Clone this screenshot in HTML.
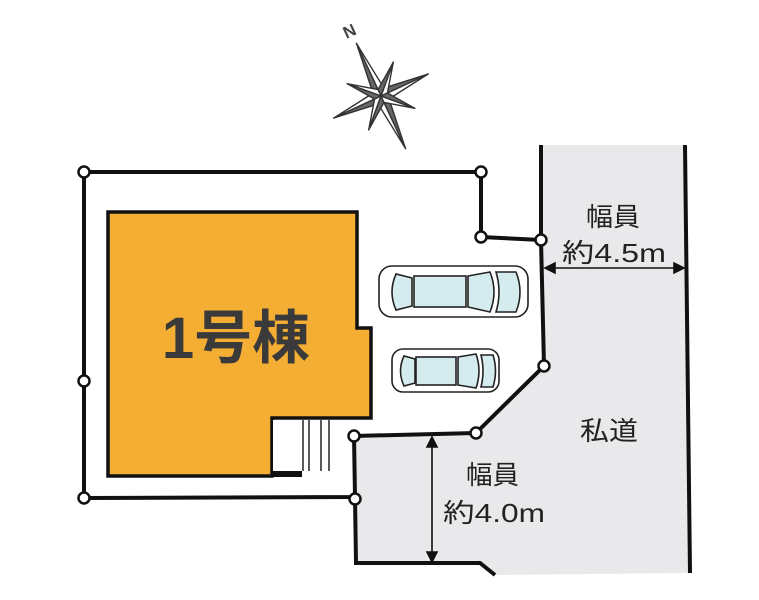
<!DOCTYPE html>
<html><head><meta charset="utf-8"><style>
html,body{margin:0;padding:0;background:#fff;width:759px;height:600px;overflow:hidden}
svg{display:block}
text{font-family:"Liberation Sans","Noto Sans CJK JP",sans-serif}
</style></head><body>
<svg width="759" height="600" viewBox="0 0 759 600" xmlns="http://www.w3.org/2000/svg">
<polygon points="541,145 685,145 690,573 495,575 480,563 356,563 355,436 476,433 544,366 541,240" fill="#e9e9eb"/>
<line x1="685" y1="145" x2="690" y2="573" stroke="#111" stroke-width="4"/>
<polyline points="541,145 541,240" fill="none" stroke="#111" stroke-width="4"/>
<polyline points="355,497 356,563 480,563 495,575" fill="none" stroke="#111" stroke-width="4"/>
<polygon points="84,172 481,172 481,237 541,240 544,366 476,433 354,436 355,497 84,498" fill="#fff" stroke="#111" stroke-width="4" stroke-linejoin="round"/>
<polygon points="108,212 357,212 357,328 371,328 371,418 272,418 272,476 108,476" fill="#f4ae33" stroke="#111" stroke-width="3.5"/>
<rect x="273" y="420" width="56" height="51" fill="#fff"/>
<line x1="303" y1="420" x2="303" y2="471" stroke="#222" stroke-width="1.5"/>
<line x1="309" y1="420" x2="309" y2="471" stroke="#222" stroke-width="1.5"/>
<line x1="321" y1="420" x2="321" y2="471" stroke="#222" stroke-width="1.5"/>
<line x1="329" y1="420" x2="329" y2="471" stroke="#222" stroke-width="1.5"/>
<rect x="272" y="471" width="30" height="6" fill="#111"/>
<text x="236" y="358" text-anchor="middle" font-size="58" font-weight="bold" fill="#3a3a3a">1号棟</text>
<g stroke="#222" stroke-width="1.6" fill="#d4ecee">
<rect x="379" y="266" width="149" height="51" rx="13" fill="#fff"/>
<path d="M396,274 Q388,292 396,310 L412,306 L412,278 Z"/>
<rect x="414" y="276" width="52" height="31"/>
<path d="M468,276 L490,272 Q498,292 490,312 L468,307 Z"/>
<path d="M496,272 L516,272 Q524,292 516,312 L496,312 Q502,292 496,272 Z"/>
<rect x="392" y="349" width="107" height="43" rx="11" fill="#fff"/>
<path d="M404,356 Q397,371 404,386 L415,383 L415,359 Z"/>
<rect x="416" y="357" width="40" height="28"/>
<path d="M458,357 L476,354 Q482,371 476,388 L458,385 Z"/>
<path d="M481,355 L493,355 Q498,371 493,387 L481,387 Q485,371 481,355 Z"/>
</g>
<g fill="#fff" stroke="#111" stroke-width="2.5">
<circle cx="84" cy="172" r="5.5"/><circle cx="481" cy="172" r="5.5"/><circle cx="481" cy="237" r="5.5"/>
<circle cx="541" cy="240" r="5.5"/><circle cx="544" cy="366" r="5.5"/><circle cx="476" cy="433" r="5.5"/>
<circle cx="354" cy="436" r="5.5"/><circle cx="355" cy="499" r="5.5"/><circle cx="84" cy="498" r="5.5"/>
<circle cx="84" cy="381" r="5.5"/>
</g>
<g stroke="#111" stroke-width="1.6" fill="#111">
<line x1="548" y1="268" x2="682" y2="268"/>
<polygon points="545,268 555,263 555,273"/><polygon points="684,268 674,263 674,273"/>
<line x1="432" y1="440" x2="432" y2="560"/>
<polygon points="432,437 427,447 437,447"/><polygon points="432,562 427,552 437,552"/>
</g>
<g font-size="26" fill="#222">
<text x="586" y="226" textLength="54" lengthAdjust="spacingAndGlyphs">幅員</text>
<text x="562" y="262" textLength="104" lengthAdjust="spacingAndGlyphs">約4.5m</text>
<text x="580" y="440" textLength="58" lengthAdjust="spacingAndGlyphs">私道</text>
<text x="466" y="484" textLength="53" lengthAdjust="spacingAndGlyphs">幅員</text>
<text x="443" y="522" textLength="102" lengthAdjust="spacingAndGlyphs">約4.0m</text>
</g>
<g transform="translate(381,96) rotate(-25)" stroke="#333" stroke-width="1.4" stroke-linejoin="round">
<polygon points="0,-58 6,-6 0,0" fill="#fff"/><polygon points="0,-58 -6,-6 0,0" fill="#666"/>
<polygon points="0,58 -6,6 0,0" fill="#fff"/><polygon points="0,58 6,6 0,0" fill="#666"/>
<polygon points="52,0 6,6 0,0" fill="#fff"/><polygon points="52,0 6,-6 0,0" fill="#666"/>
<polygon points="-52,0 -6,-6 0,0" fill="#fff"/><polygon points="-52,0 -6,6 0,0" fill="#666"/>
<g transform="rotate(45)">
<polygon points="0,-36 5,-5 0,0" fill="#fff"/><polygon points="0,-36 -5,-5 0,0" fill="#666"/>
<polygon points="0,36 -5,5 0,0" fill="#fff"/><polygon points="0,36 5,5 0,0" fill="#666"/>
<polygon points="36,0 5,5 0,0" fill="#fff"/><polygon points="36,0 5,-5 0,0" fill="#666"/>
<polygon points="-36,0 -5,-5 0,0" fill="#fff"/><polygon points="-36,0 -5,5 0,0" fill="#666"/>
</g>
</g>
<text x="349" y="37" font-size="17" font-weight="bold" fill="#444" text-anchor="middle" transform="rotate(-25 349 30)">N</text>
</svg>
</body></html>
